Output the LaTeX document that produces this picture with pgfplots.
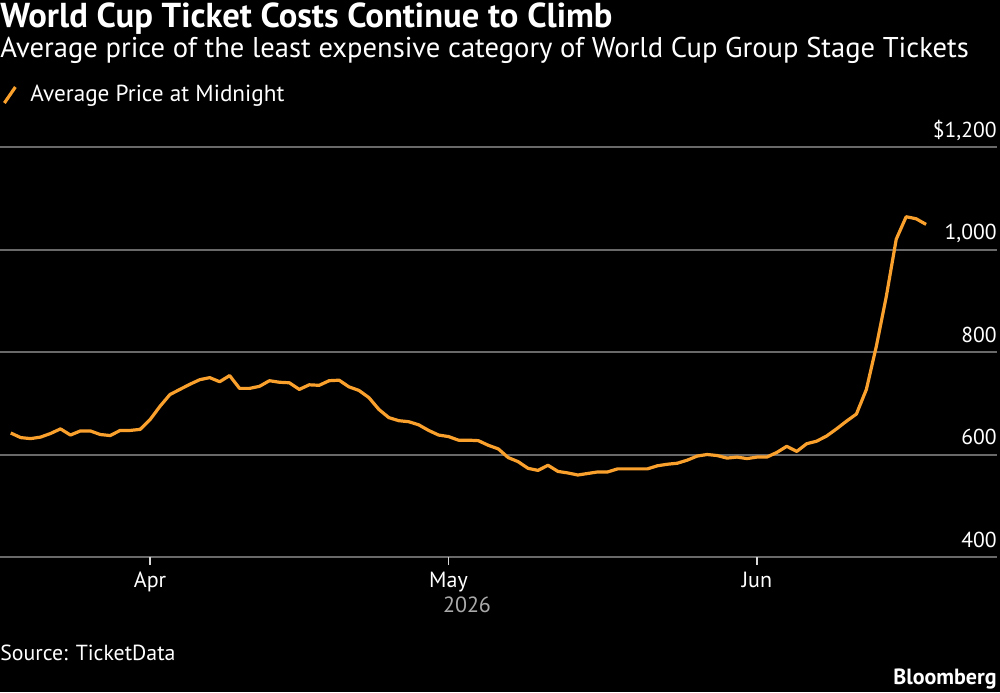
\documentclass[border=0pt]{standalone}
\usepackage{pgfplots}
\pgfplotsset{compat=1.18}
\usepackage{fontspec}
\setmainfont{PT Sans}
\definecolor{lineorange}{RGB}{250,160,45}
\definecolor{gridgray}{RGB}{105,105,105}
\definecolor{yeargray}{RGB}{170,170,170}

\pgfplotstableread{
d v
-14 642
-13 633
-12 631
-11 634
-10 641
-9 650
-8 638
-7 646
-6 646
-5 639
-4 637
-3 647
-2 647
-1 649
0 668
1 694
2 717
3 727
4 737
5 746
6 750
7 742
8 754
9 729
10 729
11 733
12 744
13 741
14 740
15 727
16 736
17 735
18 744
19 745
20 732
21 725
22 711
23 688
24 672
25 666
26 664
27 658
28 647
29 638
30 635
31 628
32 628
33 627
34 618
35 611
36 594
37 586
38 573
39 569
40 579
41 567
42 564
43 560
44 563
45 566
46 566
47 572
48 572
49 572
50 572
51 578
52 581
53 583
54 589
55 597
56 600
57 598
58 593
59 595
60 592
61 595
62 595
63 604
64 616
65 606
66 621
67 626
68 636
69 650
70 665
71 679
72 727
73 811
74 908
75 1020
76 1064
77 1060
78 1049
}\pricedata

\begin{document}
\begin{tikzpicture}[x=1pt,y=1pt]
\fill[black] (0,0) rectangle (500,346);
\useasboundingbox (0,0) rectangle (500,346);
\begin{axis}[
  at={(0pt,67.5pt)}, anchor=south west,
  scale only axis, width=498.5pt, height=205pt,
  xmin=-15.08, xmax=85.13, ymin=400, ymax=1200,
  axis line style={draw=none},
  clip=false,
  ytick={400,600,800,1000,1200},
  yticklabels={400,600,800,{1,000},{\$1,200}},
  yticklabel pos=right,
  yticklabel style={anchor=base east, inner sep=0pt, yshift=5pt, xshift=-4pt, text=white, font=\fontsize{10.8}{13}\selectfont},
  ytick style={draw=none},
  xtick={0,30,61},
  xticklabels={Apr,May,Jun},
  xtick pos=bottom,
  tick align=outside,
  major tick length=4pt,
  xtick style={draw=white!85!black, line width=0.6pt},
  xticklabel style={text=white, font=\fontsize{11}{13}\selectfont},
  ymajorgrids,
  grid style={draw=gridgray, line width=1pt},
  legend style={at={(0,1)}, anchor=west, yshift=26pt, draw=none, fill=none, inner sep=0pt,
    text=white, font=\fontsize{11.6}{14}\selectfont},
  legend cell align=left,
  legend image code/.code={\path[draw=none] (0pt,0pt) -- (13pt,0pt); \draw[#1, line width=1.6pt] (2pt,-4pt) -- (7.5pt,4pt);},
]
\addplot[lineorange, line width=1.6pt, line join=round] table[x=d, y=v] {\pricedata};
\addlegendentry{Average Price at Midnight}
\end{axis}
\node[anchor=base west, inner sep=0pt, text=white, font=\bfseries\fontsize{17.3}{20}\selectfont] at (0,332) {World Cup Ticket Costs Continue to Climb};
\node[anchor=base west, inner sep=0pt, text=white, font=\fontsize{14.3}{17}\selectfont] at (0,317) {Average price of the least expensive category of World Cup Group Stage Tickets};
\node[anchor=base, inner sep=0pt, text=yeargray, font=\fontsize{11}{13}\selectfont] at (233.5,40) {2026};
\node[anchor=base west, inner sep=0pt, text=white, font=\fontsize{10.9}{13}\selectfont] at (0,16) {Source: TicketData};
\node[anchor=base east, inner sep=0pt, text=white, font=\bfseries\fontsize{11}{13}\selectfont] at (498.5,4) {Bloomberg};
\end{tikzpicture}
\end{document}
